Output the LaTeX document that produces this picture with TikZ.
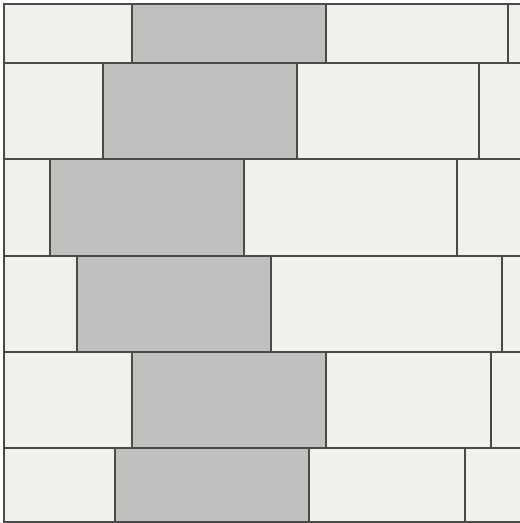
\documentclass[tikz,border=0pt]{standalone}
\usepackage{xcolor}
\usepackage{tikz}
\definecolor{ink}{HTML}{4A4A48}
\definecolor{tilelight}{HTML}{F1F0EC}
\definecolor{tilegray}{HTML}{C1C0BE}
\definecolor{paper}{HTML}{FFFFFF}

\begin{document}
\begin{tikzpicture}[x=1pt,y=-1pt, lt/.style={draw=ink,fill=tilelight,line width=1.1pt}, gt/.style={draw=ink,fill=tilegray,line width=1.1pt}]
\useasboundingbox (0,0) rectangle (520,523);
\fill[paper] (0,0) rectangle (520,523);
\clip (0,0) rectangle (520,523);
% rows: top, bottom, joints
\foreach \ya/\yb/\xa/\xb/\xc in {4/63/132/326/508, 63/159/103/297/479, 159/256/50/244/457, 256/352/77/271/502, 352/448/132/326/491, 448/522/115/309/465}{
\draw[lt] (4,\ya) rectangle (\xa,\yb);
\draw[gt] (\xa,\ya) rectangle (\xb,\yb);
\draw[lt] (\xb,\ya) rectangle (\xc,\yb);
\draw[lt] (\xc,\ya) rectangle (540,\yb);
}
\end{tikzpicture}
\end{document}
